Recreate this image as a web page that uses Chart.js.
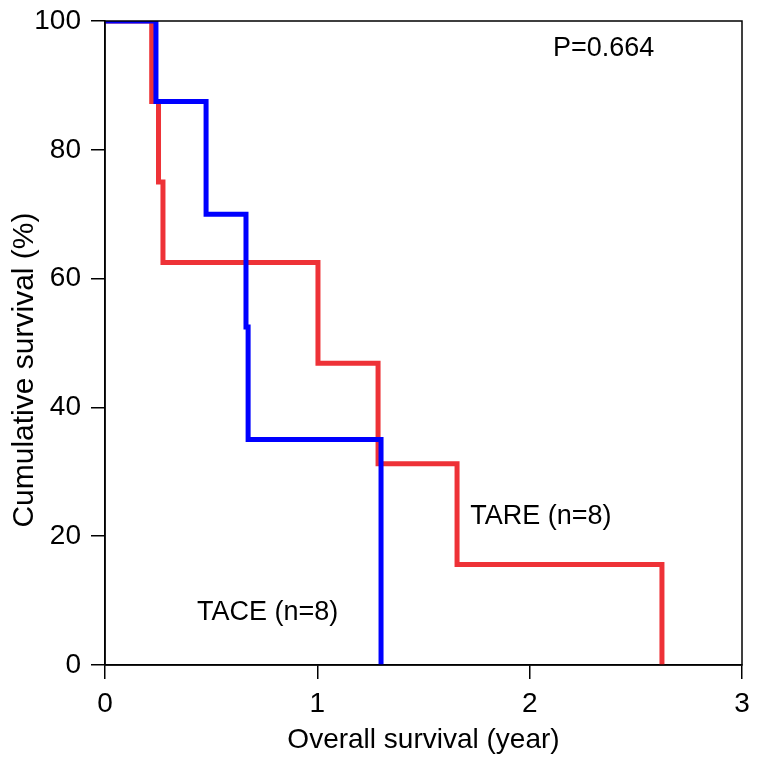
<!DOCTYPE html>
<html lang="en">
<head>
    <meta charset="UTF-8">
    <title>Overall survival TACE vs TARE</title>
    <style>
        body {
            margin: 0;
            background-color: white;
        }
        .chart-container {
            width: 761px;
            height: 760px;
        }
    </style>
    <script src="https://cdn.jsdelivr.net/npm/chart.js"></script>
</head>
<body>
    <div class="chart-container">
        <canvas id="kmChart" width="761" height="760"></canvas>
    </div>

    <script>
        // Kaplan-Meier steps (time in years, survival in %)
        const taceTimes = [0, 0.24, 0.476, 0.664, 0.674, 1.30];
        const taceSurvival = [100, 87.5, 70, 52.5, 35, 0];

        const tareTimes = [0, 0.22, 0.252, 0.273, 1.003, 1.286, 1.658, 2.623];
        const tareSurvival = [100, 87.5, 75, 62.5, 46.875, 31.25, 15.625, 0];

        const xTicks = [0, 1, 2, 3];
        const yTicks = [0, 20, 40, 60, 80, 100];

        // text labels placed in data units
        const notes = [
            { text: 'P=0.664', x: 2.11, y: 95.8 },
            { text: 'TARE (n=8)', x: 1.72, y: 23 },
            { text: 'TACE (n=8)', x: 0.433, y: 8.2 }
        ];
        const yTitle = 'Cumulative survival (%)';

        const fontFamily = '"Liberation Sans", Arial, sans-serif';

        function toPoints(xs, ys) {
            return xs.map((x, i) => ({ x: x, y: ys[i] }));
        }

        // closed box round the plot, the text notes and the y title
        const frameAndNotes = {
            id: 'frameAndNotes',
            afterDraw(chart) {
                const ctx = chart.ctx;
                const area = chart.chartArea;
                ctx.save();
                ctx.strokeStyle = '#000';
                ctx.lineWidth = 1.5;
                ctx.strokeRect(area.left, area.top, area.right - area.left, area.bottom - area.top);

                ctx.fillStyle = '#000';
                ctx.font = '27px ' + fontFamily;
                ctx.textAlign = 'left';
                ctx.textBaseline = 'middle';
                notes.forEach(n => {
                    ctx.fillText(n.text, chart.scales.x.getPixelForValue(n.x), chart.scales.y.getPixelForValue(n.y));
                });

                // y title sits a bit below the middle of the axis in the original
                ctx.translate(25, chart.scales.y.getPixelForValue(45.8));
                ctx.rotate(-Math.PI / 2);
                ctx.textAlign = 'center';
                ctx.font = '30px ' + fontFamily;
                ctx.fillText(yTitle, 0, 0);
                ctx.restore();
            }
        };

        function createChart() {
            const ctx = document.getElementById('kmChart').getContext('2d');

            new Chart(ctx, {
                type: 'line',
                data: {
                    datasets: [
                        {
                            label: 'TACE',
                            data: toPoints(taceTimes, taceSurvival),
                            borderColor: '#0000ff',
                            borderWidth: 5,
                            stepped: true,
                            pointRadius: 0,
                            borderJoinStyle: 'miter',
                            fill: false
                        },
                        {
                            label: 'TARE',
                            data: toPoints(tareTimes, tareSurvival),
                            borderColor: '#ee3237',
                            borderWidth: 5,
                            stepped: true,
                            pointRadius: 0,
                            borderJoinStyle: 'miter',
                            fill: false
                        }
                    ]
                },
                options: {
                    responsive: false,
                    animation: false,
                    layout: {
                        padding: { top: 21, right: 19 }
                    },
                    scales: {
                        x: {
                            type: 'linear',
                            min: 0,
                            max: 3,
                            afterFit: scale => {
                                scale.height = 95;
                                scale.paddingLeft = 0;
                                scale.paddingRight = 0;
                            },
                            afterBuildTicks: scale => {
                                scale.ticks = xTicks.map(v => ({ value: v }));
                            },
                            grid: {
                                drawOnChartArea: false,
                                drawTicks: true,
                                tickLength: 14,
                                color: '#000',
                                lineWidth: 1.5
                            },
                            border: { color: '#000', width: 1.5 },
                            ticks: {
                                color: '#000',
                                padding: 8,
                                maxRotation: 0,
                                font: { family: fontFamily, size: 28 }
                            },
                            title: {
                                display: true,
                                text: 'Overall survival (year)',
                                color: '#000',
                                padding: { top: 0, bottom: 3 },
                                font: { family: fontFamily, size: 28 }
                            }
                        },
                        y: {
                            min: 0,
                            max: 100,
                            afterFit: scale => {
                                scale.width = 105;
                                scale.paddingTop = 0;
                                scale.paddingBottom = 0;
                            },
                            afterBuildTicks: scale => {
                                scale.ticks = yTicks.map(v => ({ value: v }));
                            },
                            grid: {
                                drawOnChartArea: false,
                                drawTicks: true,
                                tickLength: 14,
                                color: '#000',
                                lineWidth: 1.5
                            },
                            border: { color: '#000', width: 1.5 },
                            ticks: {
                                color: '#000',
                                padding: 10,
                                font: { family: fontFamily, size: 28 }
                            }
                        }
                    },
                    plugins: {
                        legend: { display: false },
                        tooltip: { enabled: false }
                    }
                },
                plugins: [frameAndNotes]
            });
        }

        createChart();
    </script>
</body>
</html>
